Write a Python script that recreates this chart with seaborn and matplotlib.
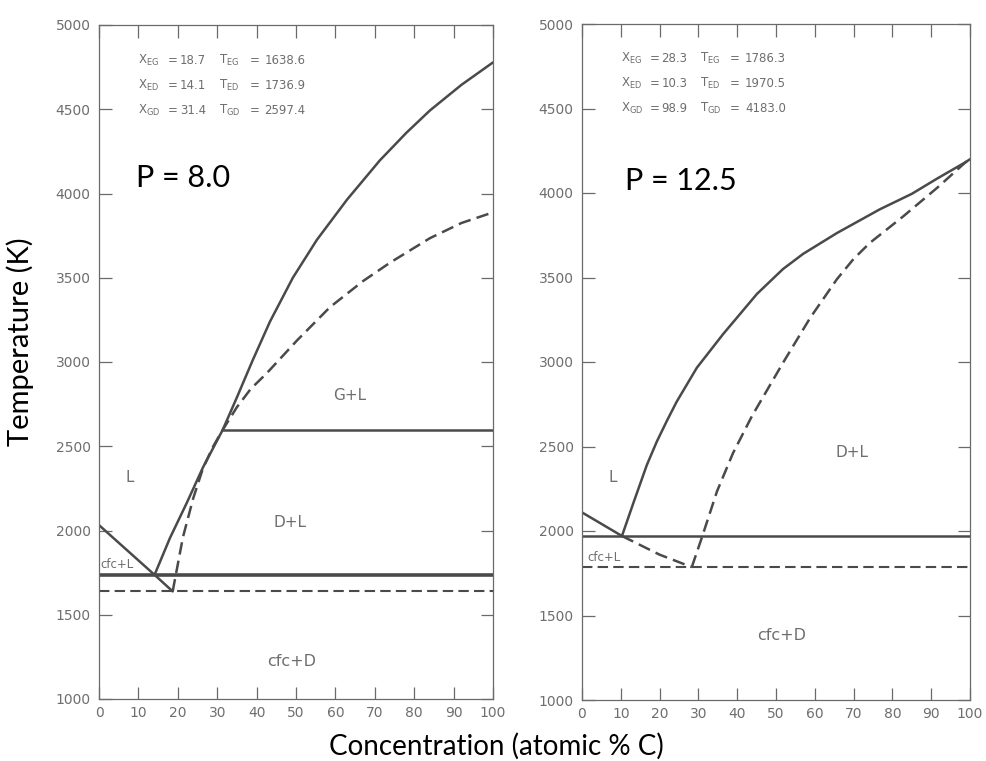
import matplotlib
matplotlib.use("Agg")
import matplotlib.pyplot as plt
import seaborn as sns
import pandas as pd

# ---------------- data: P = 8.0 ----------------
p8_liq_left_x = [0.0, 14.1, 18.7]
p8_liq_left_t = [2032, 1736.9, 1638.6]
p8_solid_x = [14.1, 18.0, 22.3, 26.4, 31.4, 35.0, 39.0, 43.4, 49.2, 55.3, 63.0, 71.3, 78.0, 84.0, 92.0, 100.0]
p8_solid_t = [1736.9, 1955, 2165, 2375, 2597.4, 2790, 3010, 3240, 3500, 3725, 3965, 4197, 4360, 4493, 4645, 4778]
p8_dash_x = [18.7, 21.3, 23.9, 26.4, 29.0, 31.4, 35.0, 38.5, 42.6, 50.3, 58.6, 67.0, 73.9, 84.0, 92.0, 100.0]
p8_dash_t = [1638.6, 1960, 2190, 2370, 2500, 2597.4, 2732, 2840, 2934, 3129, 3325, 3480, 3590, 3735, 3825, 3888]
p8_t_eg, p8_t_ed, p8_t_gd, p8_x_gd = 1638.6, 1736.9, 2597.4, 31.4

# ---------------- data: P = 12.5 ----------------
p12_liq_left_x = [0.0, 10.3]
p12_liq_left_t = [2110, 1970.5]
p12_meta_x = [10.3, 20.0, 28.3]
p12_meta_t = [1970.5, 1860, 1786.3]
p12_solid_x = [10.3, 13.2, 16.7, 19.3, 21.9, 24.4, 29.6, 36.4, 45.1, 51.8, 57.0, 65.7, 76.8, 85.0, 91.5, 98.9, 100.0]
p12_solid_t = [1970.5, 2163, 2390, 2530, 2653, 2765, 2966, 3166, 3403, 3550, 3640, 3763, 3904, 3995, 4085, 4183.0, 4200]
p12_dash_x = [28.3, 30.9, 34.8, 38.9, 43.8, 51.8, 58.8, 65.7, 70.0, 74.2, 82.7, 91.5, 98.9, 100.0]
p12_dash_t = [1786.3, 1962, 2235, 2460, 2680, 2995, 3261, 3490, 3610, 3705, 3860, 4030, 4183.0, 4200]
p12_t_eg, p12_t_ed = 1786.3, 1970.5

x_ticks = list(range(0, 101, 10))
y_ticks = list(range(1000, 5001, 500))

p8_info = [("EG", "18.7", "1638.6"), ("ED", "14.1", "1736.9"), ("GD", "31.4", "2597.4")]
p12_info = [("EG", "28.3", "1786.3"), ("ED", "10.3", "1970.5"), ("GD", "98.9", "4183.0")]

sns.set_theme(style="white")
plt.rcParams["font.family"] = ["DejaVu Sans"]

LC = "#4a4a4a"
GC = "#6a6a6a"
TC = "#6e6e6e"

fig = plt.figure(figsize=(9.86, 7.61), dpi=100)
axL = fig.add_axes([99/986, 1-699/761, 394/986, 674/761])
axR = fig.add_axes([582/986, 1-700/761, 388/986, 676/761])


def line(ax, xs, ts, dashed=False, lw=1.8):
    df = pd.DataFrame({"x": xs, "t": ts})
    sns.lineplot(data=df, x="x", y="t", ax=ax, sort=False, color=LC, lw=lw,
                 linestyle=(0, (5, 2.5)) if dashed else "-", estimator=None)


def style(ax):
    ax.set_xlim(0, 100)
    ax.set_ylim(1000, 5000)
    ax.set_xticks(x_ticks)
    ax.set_yticks(y_ticks)
    ax.set_xlabel("")
    ax.set_ylabel("")
    ax.tick_params(direction="in", length=9, width=0.9, color=GC, labelcolor=TC,
                   labelsize=10, top=True, right=True, bottom=True, left=True, pad=6)
    ax.tick_params(axis="x", pad=5)
    for s in ax.spines.values():
        s.set_color(GC)
        s.set_linewidth(0.9)
    ax.set_facecolor("white")


def info(ax, rows, top, dy):
    for i, (sub, xv, tv) in enumerate(rows):
        t = top - i * dy
        kw = dict(fontsize=8.5, color=TC, va="center")
        ax.text(10.0, t, r"X$_{\mathrm{%s}}$" % sub, **kw)
        ax.text(17.5, t, "=", **kw)
        ax.text(27.2, t, xv, ha="right", **kw)
        ax.text(30.5, t, r"T$_{\mathrm{%s}}$" % sub, **kw)
        ax.text(38.2, t, "=", **kw)
        ax.text(42.0, t, tv, **kw)


# ----- left panel -----
line(axL, p8_liq_left_x, p8_liq_left_t)
line(axL, p8_solid_x, p8_solid_t)
line(axL, p8_dash_x, p8_dash_t, dashed=True)
line(axL, [0, 100], [p8_t_ed, p8_t_ed], lw=2.6)
line(axL, [0, 100], [p8_t_eg, p8_t_eg], dashed=True, lw=1.5)
line(axL, [p8_x_gd, 100], [p8_t_gd, p8_t_gd], lw=1.8)
style(axL)
info(axL, p8_info, 4790, 150)
axL.text(9.5, 4090, "P = 8.0", fontsize=22, family="Lato", color="black", va="center")
lab = dict(fontsize=11, color=TC, ha="center", va="center")
axL.text(63.7, 2803, "G+L", **lab)
axL.text(7.9, 2317, "L", **lab)
axL.text(48.5, 2050, "D+L", **lab)
axL.text(0.3, 1800, "cfc+L", fontsize=8.5, color=TC, ha="left", va="center")
axL.text(49, 1220, "cfc+D", fontsize=11.5, color=TC, ha="center", va="center")

# ----- right panel -----
line(axR, p12_liq_left_x, p12_liq_left_t)
line(axR, p12_meta_x, p12_meta_t, dashed=True)
line(axR, p12_solid_x, p12_solid_t)
line(axR, p12_dash_x, p12_dash_t, dashed=True)
line(axR, [0, 100], [p12_t_ed, p12_t_ed], lw=1.8)
line(axR, [0, 100], [p12_t_eg, p12_t_eg], dashed=True, lw=1.5)
style(axR)
info(axR, p12_info, 4796, 148)
axR.text(11.0, 4070, "P = 12.5", fontsize=22, family="Lato", color="black", va="center")
axR.text(69.6, 2464, "D+L", **lab)
axR.text(8.0, 2316, "L", **lab)
axR.text(1.5, 1844, "cfc+L", fontsize=8.5, color=TC, ha="left", va="center")
axR.text(51.5, 1384, "cfc+D", fontsize=11.5, color=TC, ha="center", va="center")

fig.text(20/986, 1-342/761, "Temperature (K)", rotation=90, fontsize=21, family="Lato",
         ha="center", va="center", color="black")
fig.text(496/986, 1-746/761, "Concentration (atomic % C)", fontsize=20, family="Lato",
         ha="center", va="center", color="black")

fig.savefig("out.png", dpi=100, facecolor="white")
